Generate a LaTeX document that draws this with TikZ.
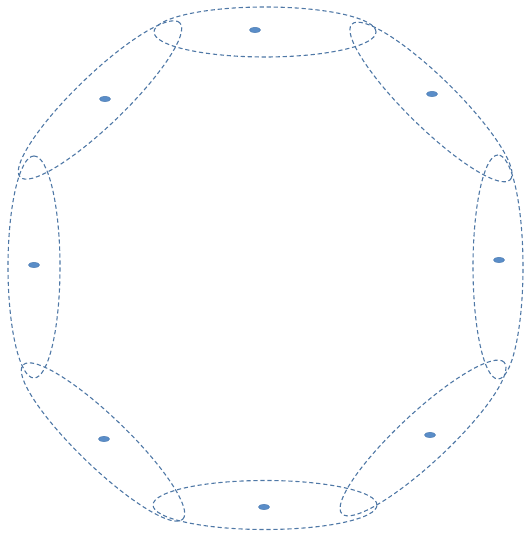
\documentclass[tikz,border=0pt]{standalone}
\usetikzlibrary{shapes.geometric}
\definecolor{rim}{HTML}{4F78A6}
\definecolor{dotfill}{HTML}{5A8DC8}
\definecolor{dotedge}{HTML}{4677AE}
\tikzset{group/.style={ellipse,draw=rim,line width=1.1pt,dash pattern=on 4.2pt off 2.8pt,inner sep=0pt,minimum width=222pt,minimum height=50pt}, member/.style={ellipse,fill=dotfill,draw=dotedge,line width=0.4pt,inner sep=0pt,minimum width=11pt,minimum height=5.5pt}}

\begin{document}
\begin{tikzpicture}[x=1pt,y=1pt]
\useasboundingbox (0,0) rectangle (524,534);
\node[group](gtop) at (265,502){};
\node[group,rotate=-44.5](gtr) at (431,432){};
\node[group,rotate=90,minimum width=224pt](gright) at (498,267){};
\node[group,rotate=43](gbr) at (423,96){};
\node[group,minimum width=224pt,minimum height=49pt](gbot) at (265,29){};
\node[group,rotate=-44](gbl) at (103,92){};
\node[group,rotate=90,minimum height=52pt](gleft) at (34,267){};
\node[group,rotate=44](gtl) at (100,434){};
\node[member](mtop) at (255,504){};
\node[member](mtr) at (432,440){};
\node[member](mright) at (499,274){};
\node[member](mbr) at (430,99){};
\node[member](mbot) at (264,27){};
\node[member](mbl) at (104,95){};
\node[member](mleft) at (34,269){};
\node[member](mtl) at (105,435){};
\end{tikzpicture}
\end{document}
